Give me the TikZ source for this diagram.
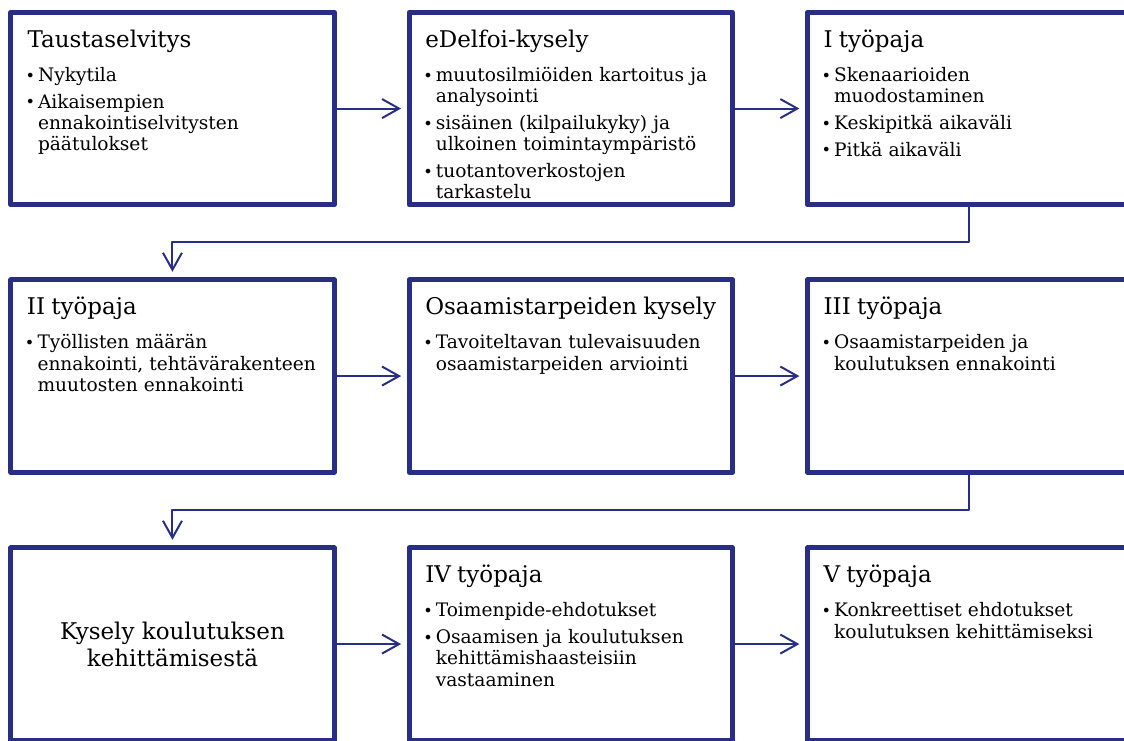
\documentclass[tikz,border=0pt]{standalone}
\usepackage{fontspec}
\setmainfont{DejaVu Serif}
\usetikzlibrary{arrows.meta, calc, positioning}
\definecolor{navyline}{RGB}{40,46,134}

\newcommand{\headtext}{\fontsize{23}{27}\selectfont}
\newcommand{\bodytext}{\fontsize{18.6}{21.3}\selectfont\setlength{\parskip}{5.5pt}}
\newcommand{\boxtitle}[1]{\noindent\rule{0pt}{30pt}{\headtext #1}\par\vspace{7.5pt}}
\newcommand{\dotmark}{\hspace*{-2pt}\raisebox{0.3pt}{\fontsize{16}{16}\selectfont\textbullet}}
\newcommand{\bitem}[1]{\hangindent=10.5pt\hangafter=1\noindent\makebox[10.5pt][l]{\dotmark}#1\par}

\begin{document}
\begin{tikzpicture}[x=1pt, y=1pt, line join=round,
    stagebox/.style={draw=navyline, line width=5pt, minimum width=323.3pt, minimum height=192.5pt, inner sep=0pt},
    stagetext/.style={anchor=north west, inner sep=0pt, text width=302pt, align=left, font=\bodytext},
    link/.style={draw=navyline, line width=2pt, -{Straight Barb[length=17pt,width=19pt]}, shorten >=5.5pt}]

    \useasboundingbox (0,0) rectangle (1124,-740);

    % stage boxes
    \node [stagebox, anchor=north west] (b1) at (8.3,-9.8) {};
    \node [stagebox, right=70pt of b1] (b2) {};
    \node [stagebox, right=70pt of b2] (b3) {};
    \node [stagebox, below=70pt of b1] (b4) {};
    \node [stagebox, right=70pt of b4] (b5) {};
    \node [stagebox, right=70pt of b5] (b6) {};
    \node [stagebox, below=70.5pt of b4] (b7) {};
    \node [stagebox, right=70pt of b7] (b8) {};
    \node [stagebox, right=70pt of b8] (b9) {};

    % box texts
    \node [stagetext] (t1) at ([xshift=19pt,yshift=-7pt]b1.north west) {\boxtitle{Taustaselvitys}%
        \bitem{Nykytila}%
        \bitem{Aikaisempien\newline ennakointiselvitysten\newline päätulokset}};
    \node [stagetext] (t2) at ([xshift=18.5pt,yshift=-7pt]b2.north west) {\boxtitle{eDelfoi-kysely}%
        \bitem{muutosilmiöiden kartoitus ja\newline analysointi}%
        \bitem{sisäinen (kilpailukyky) ja\newline ulkoinen toimintaympäristö}%
        \bitem{tuotantoverkostojen\newline tarkastelu}};
    \node [stagetext] (t3) at ([xshift=18.5pt,yshift=-7pt]b3.north west) {\boxtitle{I työpaja}%
        \bitem{Skenaarioiden\newline muodostaminen}%
        \bitem{Keskipitkä aikaväli}%
        \bitem{Pitkä aikaväli}};
    \node [stagetext] (t4) at ([xshift=18.5pt,yshift=-7pt]b4.north west) {\boxtitle{II työpaja}%
        \bitem{Työllisten määrän\newline ennakointi, tehtävärakenteen\newline muutosten ennakointi}};
    \node [stagetext] (t5) at ([xshift=18.5pt,yshift=-7pt]b5.north west) {\boxtitle{Osaamistarpeiden kysely}%
        \bitem{Tavoiteltavan tulevaisuuden\newline osaamistarpeiden arviointi}};
    \node [stagetext] (t6) at ([xshift=18.5pt,yshift=-7pt]b6.north west) {\boxtitle{III työpaja}%
        \bitem{Osaamistarpeiden ja\newline koulutuksen ennakointi}};
    \node [align=center, font=\headtext, inner sep=0pt] (t7) at (b7) {Kysely koulutuksen\\kehittämisestä};
    \node [stagetext] (t8) at ([xshift=18.5pt,yshift=-7pt]b8.north west) {\boxtitle{IV työpaja}%
        \bitem{Toimenpide-ehdotukset}%
        \bitem{Osaamisen ja koulutuksen\newline kehittämishaasteisiin\newline vastaaminen}};
    \node [stagetext] (t9) at ([xshift=18.5pt,yshift=-7pt]b9.north west) {\boxtitle{V työpaja}%
        \bitem{Konkreettiset ehdotukset\newline koulutuksen kehittämiseksi}};

    % arrows along the rows
    \draw [link] (b1) -- (b2);
    \draw [link] (b2) -- (b3);
    \draw [link] (b4) -- (b5);
    \draw [link] (b5) -- (b6);
    \draw [link] (b7) -- (b8);
    \draw [link] (b8) -- (b9);

    % arrows from row to row
    \coordinate (m1) at ($(b3.south)!.5!(b4.north)$);
    \coordinate (m2) at ($(b6.south)!.5!(b7.north)$);
    \draw [link] (b3.south) -- (b3.south |- m1) -| (b4.north);
    \draw [link] (b6.south) -- (b6.south |- m2) -| (b7.north);
\end{tikzpicture}
\end{document}
